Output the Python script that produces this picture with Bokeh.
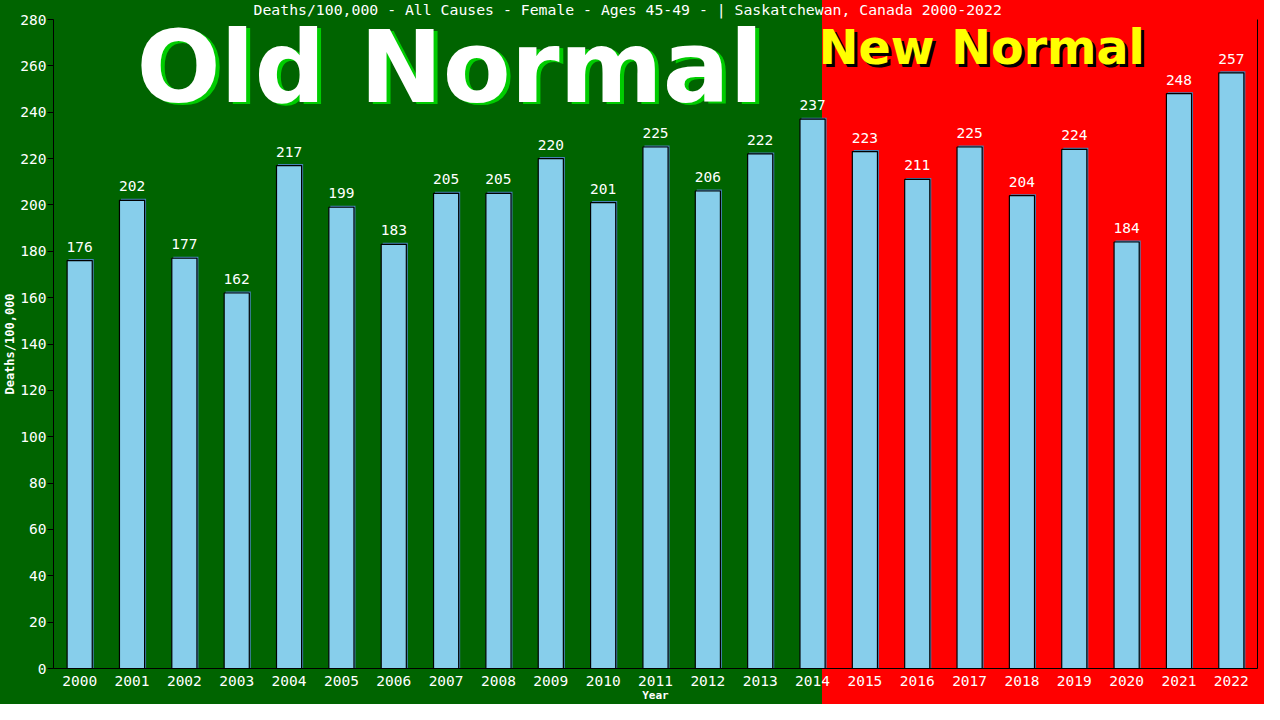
from bokeh.plotting import figure
from bokeh.models import Range1d, LinearAxis, FixedTicker, ColumnDataSource
from bokeh.core.properties import value
from bokeh.embed import file_html
from bokeh.resources import INLINE

# ---------------- data ----------------
years = list(range(2000, 2023))
deaths = [176, 202, 177, 162, 217, 199, 183, 205, 205, 220, 201, 225, 206,
          222, 237, 223, 211, 225, 204, 224, 184, 248, 257]
y_ticks = list(range(0, 281, 20))
title_text = "Deaths/100,000 - All Causes - Female - Ages 45-49 -  | Saskatchewan, Canada 2000-2022"
old_label = "Old Normal"
new_label = "New Normal"
x_label = "Year"
y_label = "Deaths/100,000"

# ---------------- layout / style ----------------
W, H = 1264, 704
B_LEFT, B_RIGHT, B_TOP, B_BOTTOM = 52, 7, 17, 35
X0, X1 = 1999.5, 2022.5
Y0, Y1 = 0, 280
frame_w = W - B_LEFT - B_RIGHT
frame_h = H - B_TOP - B_BOTTOM
px_x = frame_w / (X1 - X0)
px_y = frame_h / (Y1 - Y0)
SPLIT_PX = 822  # where the red "new normal" background begins (figure px)

GREEN = "#006400"
RED = "#FF0000"
MONO = "DejaVu Sans Mono"

p = figure(width=W, height=H, output_backend="svg", toolbar_location=None,
           x_range=Range1d(X0, X1), y_range=Range1d(Y0, Y1),
           min_border_left=B_LEFT, min_border_right=B_RIGHT,
           min_border_top=B_TOP, min_border_bottom=B_BOTTOM)
p.background_fill_alpha = 0
p.border_fill_alpha = 0
p.outline_line_color = None
p.styles = {"background": f"linear-gradient(to right, {GREEN} {SPLIT_PX}px, {RED} {SPLIT_PX}px)"}
p.xgrid.visible = False
p.ygrid.visible = False

# title
p.title.text = title_text
p.title.align = "left"
p.title.offset = 200
p.title.standoff = 0
p.title.vertical_align = "top"
p.title.text_color = "white"
p.title.text_font = MONO
p.title.text_font_style = "normal"
p.title.text_font_size = "14.8px"

# axes
xa = p.xaxis[0]
xa.ticker = FixedTicker(ticks=years)
xa.major_tick_line_color = None
xa.minor_tick_line_color = None
xa.axis_line_color = "black"
xa.major_label_text_color = "white"
xa.major_label_text_font = MONO
xa.major_label_text_font_size = "14.5px"
xa.major_label_standoff = 1
xa.axis_label = x_label
xa.axis_label_text_color = "white"
xa.axis_label_text_font = MONO
xa.axis_label_text_font_style = "bold"
xa.axis_label_text_font_size = "11px"
xa.axis_label_standoff = 0

ya = p.yaxis[0]
ya.ticker = FixedTicker(ticks=y_ticks)
ya.major_tick_out = 6
ya.major_tick_in = 0
ya.minor_tick_line_color = None
ya.axis_line_color = "black"
ya.major_tick_line_color = "black"
ya.major_label_text_color = "white"
ya.major_label_text_font = MONO
ya.major_label_text_font_size = "14.5px"
ya.major_label_standoff = 1
ya.axis_label = y_label
ya.axis_label_text_color = "white"
ya.axis_label_text_font = MONO
ya.axis_label_text_font_style = "bold"
ya.axis_label_text_font_size = "12px"
ya.axis_label_standoff = 0

ra = LinearAxis(ticker=FixedTicker(ticks=[]), major_label_text_font_size="0px",
                major_tick_line_color=None, minor_tick_line_color=None,
                axis_line_color="black")
p.add_layout(ra, "right")

# bars
bar_w = 0.48
src = ColumnDataSource(dict(x=years, top=deaths, lab=[str(v) for v in deaths]))
shadow_src = ColumnDataSource(dict(x=[v + 1.5 / px_x for v in years],
                                   top=[v + 1.5 / px_y for v in deaths]))
p.vbar(x="x", top="top", width=bar_w, source=shadow_src,
       fill_color="#4682B4", line_color=None)
p.vbar(x="x", top="top", width=bar_w, source=src,
       fill_color="#87CEEB", line_color="black", line_width=1.2)
p.text(x="x", y="top", text="lab", source=src, text_align="center",
       text_baseline="bottom", y_offset=-9, text_color="white",
       text_font=value(MONO), text_font_size="14.5px")

# big banner texts
old_x = X0 + (143 - 60) / px_x
old_y = (677 - 73) / px_y
p.text(x=[old_x], y=[old_y], text=[old_label], x_offset=4, y_offset=2,
       text_color="#00CC00", text_font=value("DejaVu Sans"), text_font_style="bold",
       text_font_size="99px", text_align="left", text_baseline="alphabetic")
p.text(x=[old_x], y=[old_y], text=[old_label],
       text_color="white", text_font=value("DejaVu Sans"), text_font_style="bold",
       text_font_size="99px", text_align="left", text_baseline="alphabetic")

new_x = X0 + (826 - 60) / px_x
new_y = (677 - 53) / px_y
p.text(x=[new_x], y=[new_y], text=[new_label], x_offset=3, y_offset=3,
       text_color="black", text_font=value("DejaVu Sans"), text_font_style="bold",
       text_font_size="47.5px", text_align="left", text_baseline="alphabetic")
p.text(x=[new_x], y=[new_y], text=[new_label],
       text_color="#FFFF00", text_font=value("DejaVu Sans"), text_font_style="bold",
       text_font_size="47.5px", text_align="left", text_baseline="alphabetic")

open("out.html", "w").write(file_html(p, INLINE))
